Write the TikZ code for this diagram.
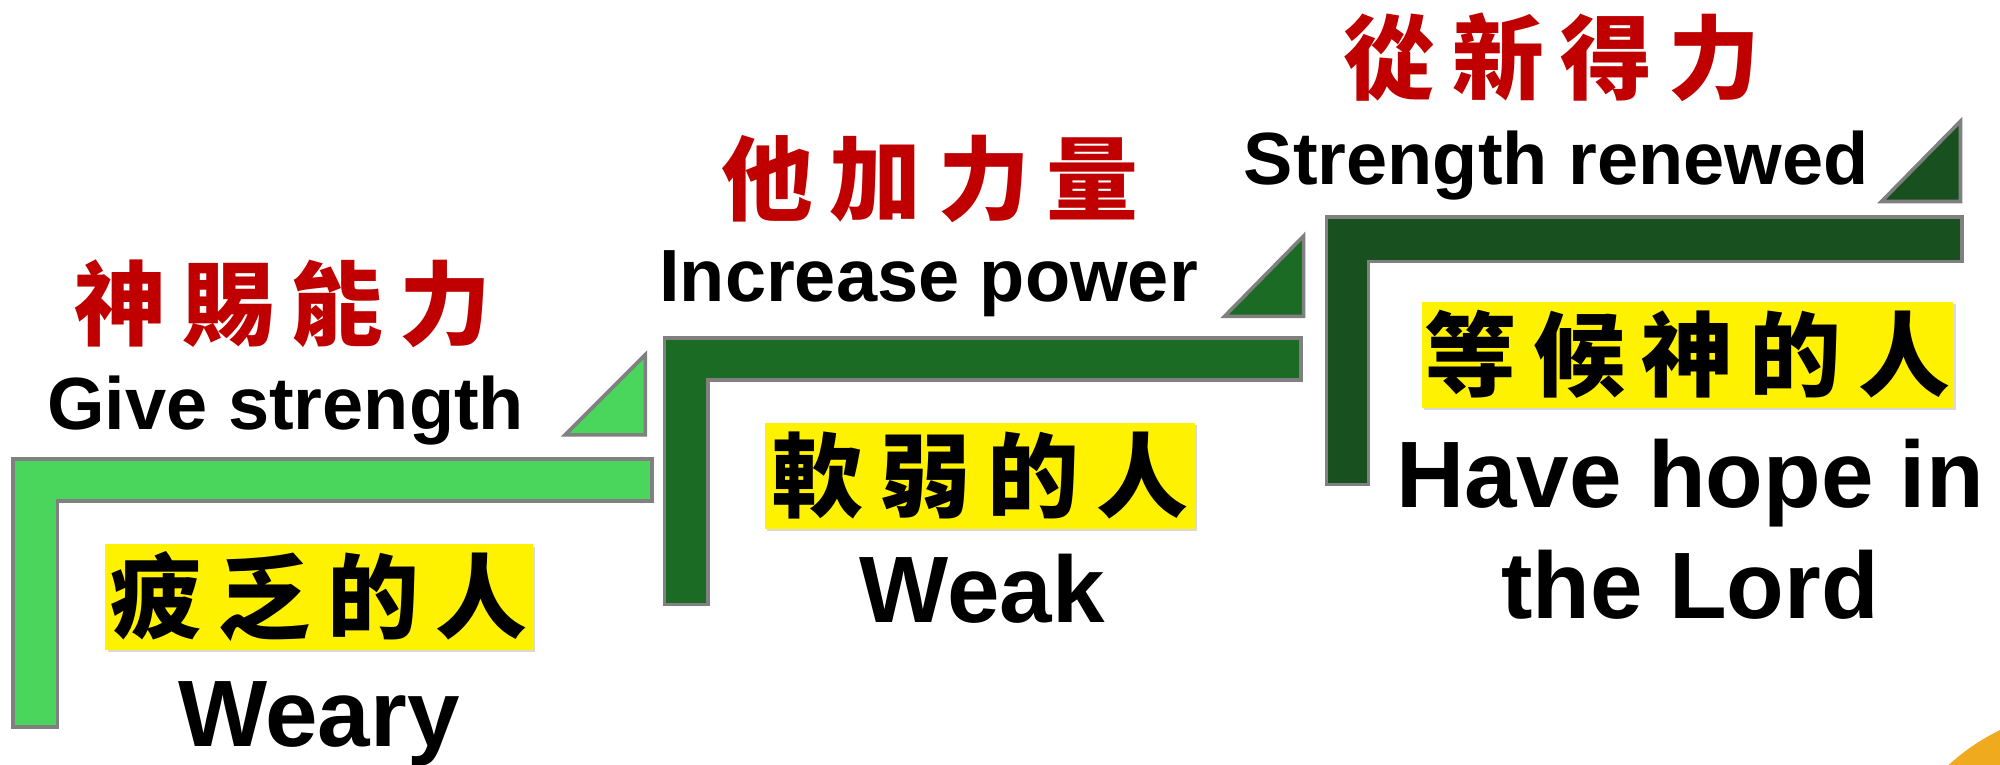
\documentclass[tikz,border=0pt]{standalone}
\usepackage{fontspec}
\setmainfont{Liberation Sans}
\newfontfamily\cjk{Noto Sans CJK TC}[LetterSpace=18]
\usepackage{tikz}
\usetikzlibrary{shadows}
\definecolor{greenA}{RGB}{74,213,92}
\definecolor{greenB}{RGB}{28,107,37}
\definecolor{greenC}{RGB}{24,80,32}
\definecolor{edge}{RGB}{128,128,128}
\definecolor{titlered}{RGB}{192,0,0}
\definecolor{sun}{RGB}{240,170,30}

\begin{document}
\begin{tikzpicture}[x=1pt, y=-1pt,
	stair/.style={draw=edge, line width=2.8pt, line join=miter},
	title/.style={text=titlered, font=\cjk\bfseries\fontsize{72}{80}\selectfont},
	label/.style={anchor=base, font=\bfseries\fontsize{58}{66}\selectfont},
	big label/.style={anchor=base, font=\bfseries\fontsize{74}{87}\selectfont},
	who/.style={fill=yellow, inner sep=0pt, minimum height=83pt, font=\cjk\bfseries\fontsize{72}{80}\selectfont,
		drop shadow={shadow xshift=2pt, shadow yshift=-2pt, opacity=0.3}},]

    \useasboundingbox (0,0) rectangle (1568,599);
    \begin{scope}
	\clip (0,0) rectangle (1568,599);
	\fill[sun] (1640,722) circle [radius=166pt];
    \end{scope}

    \filldraw[stair, fill=greenA] (10,360) -- (511,360) -- (511,393) -- (45,393) -- (45,570) -- (10,570) -- cycle;
    \filldraw[stair, fill=greenA] (443,341) -- (506,341) -- (506,278) -- cycle;
    \filldraw[stair, fill=greenB] (521,265) -- (1020,265) -- (1020,298) -- (555,298) -- (555,474) -- (521,474) -- cycle;
    \filldraw[stair, fill=greenB] (960,248) -- (1022,248) -- (1022,185) -- cycle;
    \filldraw[stair, fill=greenC] (1040,170) -- (1538,170) -- (1538,205) -- (1073,205) -- (1073,380) -- (1040,380) -- cycle;
    \filldraw[stair, fill=greenC] (1475,158) -- (1537,158) -- (1537,95) -- cycle;

    \node[title] (give zh) at (222,238) {神賜能力};
    \node[label] (give en) at (224,337) {Give strength};
    \node[who, minimum width=335pt] (weary zh) at (250,468) {疲乏的人};
    \node[big label] (weary en) at (250,585) {Weary};

    \node[title] (power zh) at (729,140) {他加力量};
    \node[label] (power en) at (728,236) {Increase power};
    \node[who, minimum width=337pt] (weak zh) at (768,373) {軟弱的人};
    \node[big label] (weak en) at (770,488) {Weak};

    \node[title] (renew zh) at (1217,45) {從新得力};
    \node[label] (renew en) at (1220,145) {Strength renewed};
    \node[who, minimum width=417pt] (hope zh) at (1323,278) {等候神的人};
    \node[big label] (hope en) at (1325,398) {Have hope in};
    \node[big label] (lord en) at (1325,485) {the Lord};
\end{tikzpicture}
\end{document}
